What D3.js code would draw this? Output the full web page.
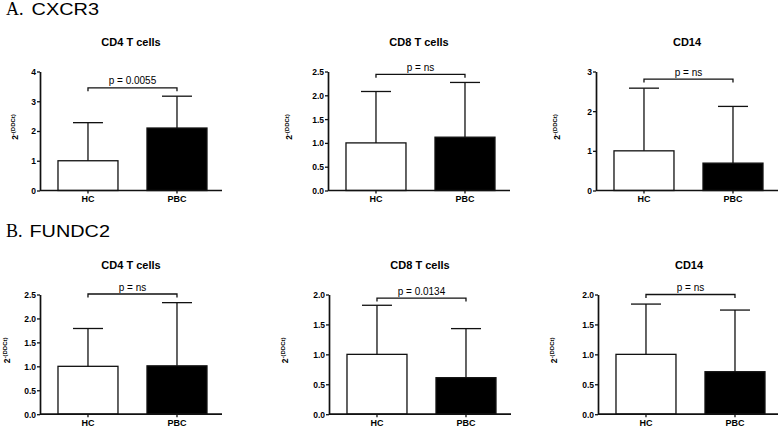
<!DOCTYPE html>
<html><head><meta charset="utf-8">
<script src="https://cdn.jsdelivr.net/npm/d3@7"></script>
<style>
html,body{margin:0;padding:0;background:#fff;}
svg{display:block;}
text{font-family:Arial,"Liberation Sans",sans-serif;}
</style></head>
<body>
<svg id="chart" width="778" height="427"></svg>
<script>
// ---- data ----
const categories = ["HC", "PBC"];
const genes = ["CXCR3", "FUNDC2"];
const geneLetters = ["A.", "B."];
const panelTitles = ["CD4 T cells", "CD8 T cells", "CD14", "CD4 T cells", "CD8 T cells", "CD14"];
const means = [[1.0, 2.1], [1.0, 1.12], [1.0, 0.69], [1.0, 1.01], [1.0, 0.61], [1.0, 0.71]];
const errTops = [[2.28, 3.17], [2.08, 2.27], [2.58, 2.12], [1.79, 2.33], [1.82, 1.43], [1.84, 1.74]];
const pLabels = ["p = 0.0055", "p = ns", "p = ns", "p = ns", "p = 0.0134", "p = ns"];
const bracketLevels = [3.45, 2.44, 2.81, 2.51, 1.94, 2.0];
const yMaxes = [4, 2.5, 3, 2.5, 2.0, 2.0];
const yTickSteps = [1, 0.5, 1, 0.5, 0.5, 0.5];
const yTickFormats = ["d", ".1f", "d", ".1f", ".1f", ".1f"];
const barFills = ["#ffffff", "#000000"];

// ---- layout ----
const axisX = [40, 328, 596, 40, 329, 598];
const rowY0 = [190.5, 414.2];
const rowTop = [71.5, 294.5];
const labelX = [18, 292, 560, 10, 288, 557];
const plotW = 182;
const headerY = [15, 237];

const svg = d3.select("#chart");

// headers
genes.forEach((g, r) => {
  const t = svg.append("text").attr("x", 6).attr("y", headerY[r]).attr("fill", "#000");
  t.append("tspan").attr("font-family", "'Liberation Serif','Times New Roman',serif").attr("font-size", 18).text(geneLetters[r] + " ");
  t.append("tspan").attr("font-family", "Arial,'Liberation Sans',sans-serif").attr("font-size", 17)
    .attr("x", r === 0 ? 31.5 : 29.5)
    .attr("textLength", r === 0 ? 67.5 : 80.5).attr("lengthAdjust", "spacingAndGlyphs").text(g);
});

const ink = "#111";

for (let i = 0; i < 6; i++) {
  const r = Math.floor(i / 3);
  const g = svg.append("g").attr("transform", `translate(${axisX[i]},0)`);
  const x = d3.scaleBand().domain(categories).range([0, plotW]).paddingInner(0.326).paddingOuter(0.1854).align(0.545);
  const y = d3.scaleLinear().domain([0, yMaxes[i]]).range([rowY0[r], rowTop[r]]);
  const ticks = d3.range(0, yMaxes[i] + 1e-9, yTickSteps[i]);

  // bars
  categories.forEach((c, k) => {
    g.append("rect")
      .attr("x", x(c)).attr("width", x.bandwidth())
      .attr("y", y(means[i][k])).attr("height", y(0) - y(means[i][k]))
      .attr("fill", barFills[k]).attr("stroke", ink).attr("stroke-width", 1.3);
    const cx = x(c) + x.bandwidth() / 2;
    const half = x.bandwidth() / 4;
    g.append("line").attr("x1", cx).attr("x2", cx).attr("y1", y(means[i][k])).attr("y2", y(errTops[i][k]))
      .attr("stroke", ink).attr("stroke-width", 1.3);
    g.append("line").attr("x1", cx - half).attr("x2", cx + half).attr("y1", y(errTops[i][k])).attr("y2", y(errTops[i][k]))
      .attr("stroke", ink).attr("stroke-width", 1.3);
  });

  // axes
  const yAxis = d3.axisLeft(y).tickValues(ticks).tickFormat(d3.format(yTickFormats[i])).tickSize(3).tickSizeOuter(0).tickPadding(1);
  const ya = g.append("g").call(yAxis);
  const xAxis = d3.axisBottom(x).tickSize(3).tickSizeOuter(0).tickPadding(2);
  const xa = g.append("g").attr("transform", `translate(0,${y(0)})`).call(xAxis);
  [ya, xa].forEach(a => {
    a.select(".domain").attr("stroke", ink).attr("stroke-width", 1.7);
    a.selectAll(".tick line").attr("stroke", ink).attr("stroke-width", 1.3);
    a.selectAll("text").attr("font-size", 8.5).attr("font-weight", "bold").attr("fill", "#000")
      .attr("font-family", "Arial,'Liberation Sans',sans-serif");
  });
  xa.selectAll("text").attr("font-size", 9);
  xa.select(".domain").attr("d", `M0,0H${plotW}`);
  ya.selectAll("text").attr("dy", "0.35em");

  // title
  g.append("text").attr("x", plotW / 2).attr("y", rowTop[r] - 25.5).attr("text-anchor", "middle")
    .attr("font-size", 11).attr("font-weight", "bold").text(panelTitles[i]);

  // bracket
  const bx1 = x(categories[0]) + x.bandwidth() / 2;
  const bx2 = x(categories[1]) + x.bandwidth() / 2;
  const by = y(bracketLevels[i]);
  g.append("path").attr("d", `M${bx1},${by + 3.5}V${by}H${bx2}V${by + 3.5}`)
    .attr("fill", "none").attr("stroke", ink).attr("stroke-width", 1.3);
  g.append("text").attr("x", (bx1 + bx2) / 2).attr("y", by - 3.5).attr("text-anchor", "middle")
    .attr("font-size", 10).text(pLabels[i]);

  // y label
  const ly = (rowY0[r] + rowTop[r]) / 2 - 4;
  const lab = svg.append("text").attr("transform", `translate(${labelX[i]},${ly}) rotate(-90)`)
    .attr("text-anchor", "middle").attr("font-size", 8.5).attr("font-weight", "bold");
  lab.append("tspan").text("2");
  lab.append("tspan").attr("font-size", 6).attr("dy", -3).text("-(DDCt)");
}
</script>
</body></html>
